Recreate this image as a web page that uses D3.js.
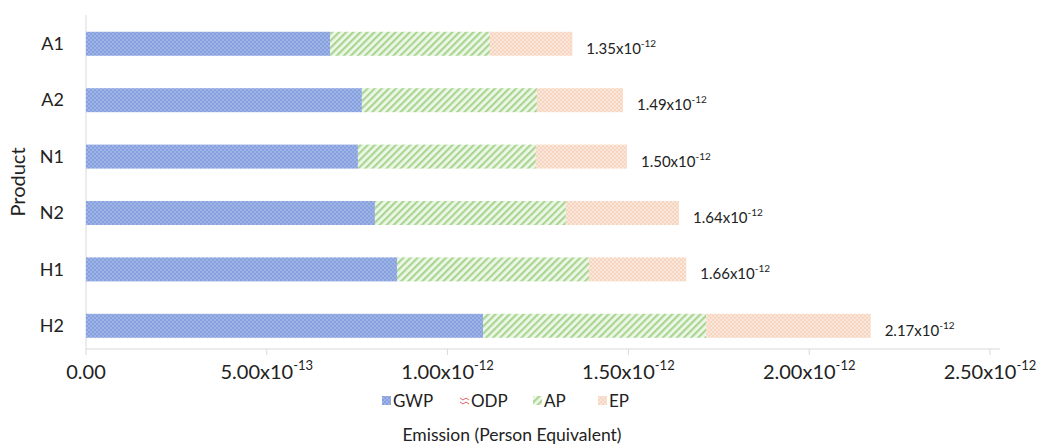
<!DOCTYPE html>
<html>
<head>
<meta charset="utf-8">
<script src="https://cdn.jsdelivr.net/npm/d3@7"></script>
<style>
  body { margin: 0; background: #fff; }
  text { font-family: Lato, "Open Sans", sans-serif; fill: #222; }
</style>
</head>
<body>
<div id="chart"></div>
<script>
// data (units of 1e-12 person equivalent)
var products = ["A1", "A2", "N1", "N2", "H1", "H2"];
var gwp = [0.675, 0.763, 0.752, 0.799, 0.860, 1.098];
var odp = [0.0, 0.0, 0.0, 0.0, 0.0, 0.0];
var ap = [0.442, 0.484, 0.492, 0.528, 0.531, 0.617];
var ep = [0.228, 0.238, 0.252, 0.313, 0.269, 0.455];
var totalLabels = ["1.35", "1.49", "1.50", "1.64", "1.66", "2.17"];
var xTicks = [0, 0.5, 1.0, 1.5, 2.0, 2.5];
var xTickMant = ["0.00", "5.00", "1.00", "1.50", "2.00", "2.50"];
var xTickExp = ["", "-13", "-12", "-12", "-12", "-12"];
var seriesNames = ["GWP", "ODP", "AP", "EP"];

var margin = { top: 15, right: 59, bottom: 99, left: 86 },
    width = 1051 - margin.left - margin.right,
    height = 448 - margin.top - margin.bottom;

var svgRoot = d3.select("#chart").append("svg")
    .attr("width", 1051).attr("height", 448);

// fill patterns
var defs = svgRoot.append("defs");
var pGwp = defs.append("pattern").attr("id", "pGWP")
    .attr("width", 4).attr("height", 4).attr("patternUnits", "userSpaceOnUse");
pGwp.append("rect").attr("width", 4).attr("height", 4).attr("fill", "#87a1de");
pGwp.append("rect").attr("x", 0).attr("y", 0).attr("width", 2).attr("height", 2).attr("fill", "#9fb4e6");
pGwp.append("rect").attr("x", 2).attr("y", 2).attr("width", 2).attr("height", 2).attr("fill", "#9fb4e6");

var pAp = defs.append("pattern").attr("id", "pAP")
    .attr("width", 5).attr("height", 5).attr("patternUnits", "userSpaceOnUse")
    .attr("patternTransform", "rotate(45)");
pAp.append("rect").attr("width", 5).attr("height", 5).attr("fill", "#eef7e8");
pAp.append("rect").attr("width", 2.2).attr("height", 5).attr("fill", "#a9d692");

var pEp = defs.append("pattern").attr("id", "pEP")
    .attr("width", 4).attr("height", 4).attr("patternUnits", "userSpaceOnUse");
pEp.append("rect").attr("width", 4).attr("height", 4).attr("fill", "#f6d6c0");
pEp.append("rect").attr("x", 0).attr("y", 0).attr("width", 2).attr("height", 2).attr("fill", "#fae6d8");
pEp.append("rect").attr("x", 2).attr("y", 2).attr("width", 2).attr("height", 2).attr("fill", "#fae6d8");

var pOdp = defs.append("pattern").attr("id", "pODP")
    .attr("width", 6).attr("height", 4).attr("patternUnits", "userSpaceOnUse");
pOdp.append("rect").attr("width", 6).attr("height", 4).attr("fill", "#fff");
pOdp.append("path").attr("d", "M0,1 L3,3 L6,1").attr("stroke", "#e0606a").attr("fill", "none").attr("stroke-width", 1);

var fills = { GWP: "url(#pGWP)", ODP: "url(#pODP)", AP: "url(#pAP)", EP: "url(#pEP)" };

var svg = svgRoot.append("g")
    .attr("transform", "translate(" + margin.left + "," + margin.top + ")");

var data = products.map(function (p, i) {
    return { product: p, GWP: gwp[i], ODP: odp[i], AP: ap[i], EP: ep[i] };
});

var xscale = d3.scaleLinear().domain([0, 2.5]).range([0, width - 2]);
var yscale = d3.scaleBand().domain(products).range([0, height])
    .paddingInner(0.5745).paddingOuter(0.248).align(0.6);

// axes lines
svg.append("line").attr("x1", 0).attr("x2", 0).attr("y1", 0).attr("y2", height)
    .attr("stroke", "#d9d9d9").attr("stroke-width", 1);
svg.append("line").attr("x1", 0).attr("x2", width + 8).attr("y1", height).attr("y2", height)
    .attr("stroke", "#d9d9d9").attr("stroke-width", 1);

// x ticks
var xt = svg.selectAll(".xt").data(xTicks).enter().append("g")
    .attr("transform", function (d) { return "translate(" + xscale(d) + "," + height + ")"; });
xt.append("line").attr("y1", 0).attr("y2", 6).attr("stroke", "#d9d9d9");
var xtText = xt.append("text").attr("y", 30).attr("text-anchor", "middle").style("font-size", "20px");
xtText.append("tspan").text(function (d, i) { return xTickMant[i] + (xTickExp[i] ? "x10" : ""); });
xtText.append("tspan").attr("dy", -9).style("font-size", "13px").text(function (d, i) { return xTickExp[i]; });

// y labels
svg.selectAll(".yl").data(products).enter().append("text")
    .attr("x", -22).attr("y", function (d) { return yscale(d) + yscale.bandwidth() / 2; })
    .attr("dy", "0.35em").attr("text-anchor", "end").style("font-size", "18px")
    .text(function (d) { return d; });

// stacked bars
var stack = d3.stack().keys(seriesNames)(data);
svg.selectAll(".layer").data(stack).enter().append("g")
    .attr("fill", function (d) { return fills[d.key]; })
    .selectAll("rect").data(function (d) { return d; }).enter().append("rect")
    .attr("x", function (d) { return xscale(d[0]); })
    .attr("width", function (d) { return xscale(d[1]) - xscale(d[0]); })
    .attr("y", function (d) { return yscale(d.data.product); })
    .attr("height", yscale.bandwidth());

// total labels
var tl = svg.selectAll(".tl").data(data).enter().append("text")
    .attr("x", function (d) { return xscale(d.GWP + d.ODP + d.AP + d.EP) + 14; })
    .attr("y", function (d) { return yscale(d.product) + yscale.bandwidth() / 2 + 10; })
    .style("font-size", "15px");
tl.append("tspan").text(function (d, i) { return totalLabels[i] + "x10"; });
tl.append("tspan").attr("dy", -7).style("font-size", "10px").text("-12");

// axis titles
svgRoot.append("text").attr("transform", "rotate(-90)")
    .attr("x", -(margin.top + height / 2)).attr("y", 25)
    .attr("text-anchor", "middle").style("font-size", "20px").text("Product");
svgRoot.append("text").attr("x", 512).attr("y", 441)
    .attr("text-anchor", "middle").style("font-size", "17.5px").text("Emission (Person Equivalent)");

// legend
var legX = [382, 460, 533, 598];
var leg = svgRoot.selectAll(".leg").data(seriesNames).enter().append("g")
    .attr("transform", function (d, i) { return "translate(" + legX[i] + ",401)"; });
leg.append("rect").attr("x", 0).attr("y", -5).attr("width", 9).attr("height", 9)
    .attr("fill", function (d) { return fills[d]; });
leg.append("text").attr("x", 11).attr("y", 0).attr("dy", "0.35em")
    .style("font-size", "17px").text(function (d) { return d; });
</script>
</body>
</html>
